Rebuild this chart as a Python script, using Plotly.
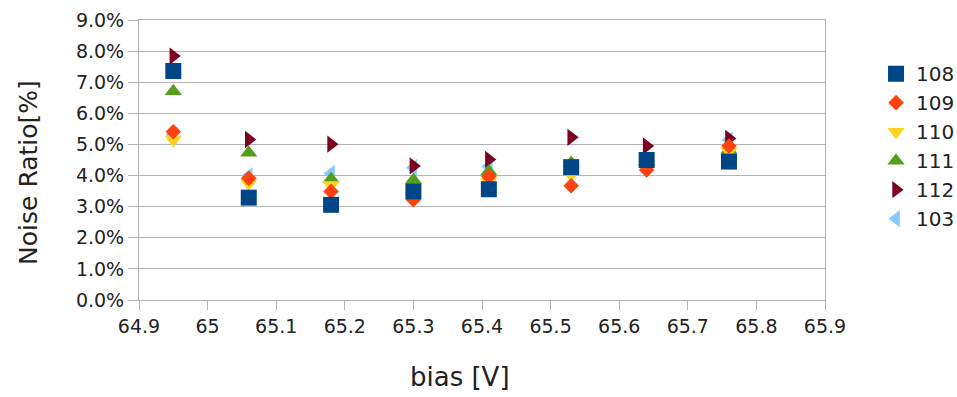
import plotly.graph_objects as go

bias = [64.95, 65.06, 65.18, 65.30, 65.41, 65.53, 65.64, 65.76]

s108 = [7.36, 3.29, 3.06, 3.49, 3.56, 4.27, 4.50, 4.45]
s109 = [5.41, 3.91, 3.49, 3.22, 3.97, 3.67, 4.18, 4.95]
s110 = [5.14, 3.75, 3.70, 3.40, 3.80, 4.02, 4.35, 4.77]
s111 = [6.71, 4.73, 3.89, 3.86, 4.13, 4.40, 4.45, 4.82]
s112 = [7.84, 5.16, 5.01, 4.31, 4.52, 5.23, 4.95, 5.19]
s103 = [5.30, 3.99, 4.07, 4.25, 4.29, 4.20, 4.40, 5.14]

series_names = ["108", "109", "110", "111", "112", "103"]
series_vals = [s108, s109, s110, s111, s112, s103]
symbols = ["square", "diamond", "triangle-down", "triangle-up", "triangle-right", "triangle-left"]
colors = ["#004586", "#ff420e", "#ffd320", "#579d1c", "#7e0021", "#83caff"]
sizes = [16, 12, 15, 15, 15, 15]

y_ticks = [i for i in range(0, 10)]
y_tick_text = [f"{v:.1f}%" for v in y_ticks]
x_ticks = [64.9, 65.0, 65.1, 65.2, 65.3, 65.4, 65.5, 65.6, 65.7, 65.8, 65.9]
x_tick_text = ["64.9", "65", "65.1", "65.2", "65.3", "65.4", "65.5", "65.6", "65.7", "65.8", "65.9"]

FONT = "DejaVu Sans"
TXT = "#222222"
fig = go.Figure()
# draw last series first so that the first series sits on top, keep legend order
order = list(range(len(series_names)))[::-1]
for i in order:
    fig.add_trace(go.Scatter(
        x=bias, y=[v / 100 for v in series_vals[i]], mode="markers", name=series_names[i],
        marker=dict(symbol=symbols[i], color=colors[i], size=sizes[i], line=dict(width=0)),
    ))

fig.update_layout(
    width=957, height=397,
    margin=dict(l=139, r=132, t=19.5, b=96.5, autoexpand=False),
    paper_bgcolor="white", plot_bgcolor="white",
    font=dict(family=FONT, color=TXT, size=19),
    showlegend=True,
    legend=dict(x=1.0744, y=0.878, xanchor="left", yanchor="top", traceorder="reversed",
                font=dict(size=20, family=FONT, color=TXT),
                tracegroupgap=0, bgcolor="rgba(0,0,0,0)"),
    xaxis=dict(range=[64.9, 65.9], tickvals=x_ticks, ticktext=x_tick_text,
               showgrid=False, zeroline=False, showline=True, linecolor="#b3b3b3",
               linewidth=1, mirror=True, ticks="outside", ticklen=9, tickcolor="#b3b3b3",
               tickfont=dict(size=19, family=FONT, color=TXT)),
    yaxis=dict(range=[0, 0.09], tickvals=[v / 100 for v in y_ticks], ticktext=y_tick_text,
               showgrid=True, gridcolor="#b3b3b3", gridwidth=1, zeroline=False,
               showline=True, linecolor="#b3b3b3", linewidth=1, mirror=True,
               ticks="outside", ticklen=10, tickcolor="#b3b3b3",
               tickfont=dict(size=19, family=FONT, color=TXT)),
    annotations=[
        dict(text="Noise Ratio[%]", xref="paper", yref="paper", x=-0.162, y=0.457,
             xanchor="center", yanchor="middle", textangle=-90, showarrow=False,
             font=dict(size=25, family=FONT, color=TXT)),
        dict(text="bias [V]", xref="paper", yref="paper", x=0.468, y=-0.276,
             xanchor="center", yanchor="middle", showarrow=False,
             font=dict(size=26, family=FONT, color=TXT)),
    ],
)

fig.write_html("out.html")
